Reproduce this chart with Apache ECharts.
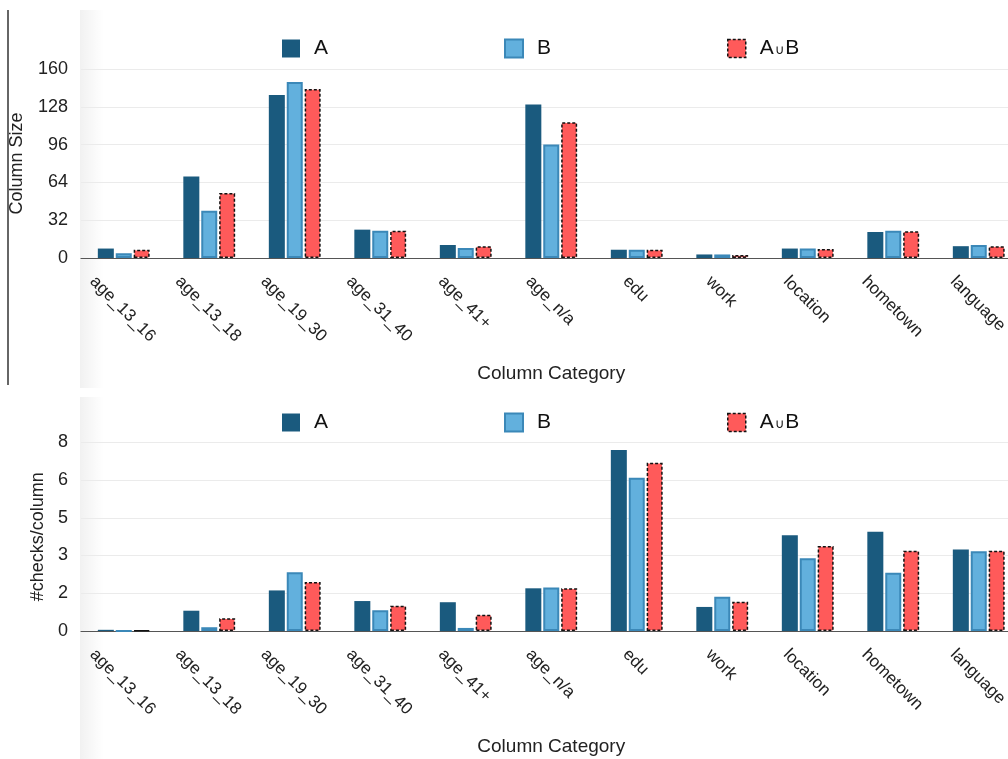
<!DOCTYPE html>
<html>
<head>
<meta charset="utf-8">
<script src="https://cdn.jsdelivr.net/npm/echarts@6/dist/echarts.min.js"></script>
<style>
  html, body { margin: 0; padding: 0; background: #fff; }
  #chart { width: 1008px; height: 759px; }
</style>
</head>
<body>
<div id="chart"></div>
<script>
const categories = ['age_13_16', 'age_13_18', 'age_19_30', 'age_31_40', 'age_41+', 'age_n/a', 'edu', 'work', 'location', 'hometown', 'language']
const seriesNames = ['A', 'B', 'A∪B']

// top panel: column size
const sizeA = [8, 69, 138, 24, 11, 130, 7, 3, 8, 22, 10]
const sizeB = [4, 40, 149, 23, 8.5, 96, 7, 3, 8, 23, 11]
const sizeAuB = [7, 55, 143, 23, 10, 115, 7, 2.5, 7.6, 22.6, 10]
const sizeTicks = [0, 32, 64, 96, 128, 160]

// bottom panel: checks per column
const checksA = [0.05, 0.86, 1.72, 1.27, 1.22, 1.81, 7.67, 1.02, 4.06, 4.21, 3.45]
const checksB = [0, 0.16, 2.49, 0.88, 0.13, 1.84, 6.5, 1.45, 3.08, 2.47, 3.38]
const checksAuB = [0.03, 0.54, 2.08, 1.07, 0.69, 1.81, 7.13, 1.24, 3.6, 3.4, 3.4]
const checksTicks = [0, 1.6, 3.2, 4.8, 6.4, 8]

const FONT = '"Liberation Sans", Arial, sans-serif'
const labelSize = 17
const labelH = 17

// measure label width so each rotated label's box is centred under its tick
let ctx = document.createElement('canvas').getContext('2d')
ctx.font = labelSize + 'px ' + FONT
function catData() {
  return categories.map(function (c) {
    let w = ctx.measureText(c).width
    return {
      value: c,
      textStyle: {
        align: 'center',
        verticalAlign: 'top',
        padding: [w / 4, 0, 0, w / 2 + labelH - 3],
      },
    }
  })
}

const styles = [
  { color: '#1a5a7e' },
  { color: '#62b0dd', borderColor: '#3b88b8', borderWidth: 2 },
  { color: '#ff5a5a', borderColor: '#111', borderWidth: 1.5, borderType: [3, 2] },
]

function makeSeries(idx, lists) {
  return lists.map(function (d, i) {
    return {
      name: seriesNames[i],
      type: 'bar',
      xAxisIndex: idx,
      yAxisIndex: idx,
      data: d,
      barWidth: 16,
      barGap: '12%',
      itemStyle: styles[i],
      emphasis: { disabled: true },
    }
  })
}

function xAxisOpt(idx) {
  return {
    type: 'category',
    gridIndex: idx,
    data: catData(),
    name: 'Column Category',
    nameLocation: 'middle',
    nameGap: 106,
    nameMoveOverlap: false,
    nameTextStyle: { color: '#222', fontSize: 19, fontFamily: FONT },
    axisLine: { show: true, lineStyle: { color: '#555', width: 1.2 } },
    axisTick: { show: false },
    axisLabel: {
      interval: 0,
      rotate: -45,
      margin: 10,
      color: '#222',
      fontSize: labelSize,
      fontFamily: FONT,
      hideOverlap: false,
    },
  }
}

function yAxisOpt(idx, name, ticks, gap) {
  return {
    type: 'value',
    gridIndex: idx,
    min: ticks[0],
    max: ticks[ticks.length - 1],
    interval: ticks[1] - ticks[0],
    name: name,
    nameLocation: 'middle',
    nameGap: gap,
    nameMoveOverlap: false,
    nameTextStyle: { color: '#222', fontSize: 18, fontFamily: FONT },
    axisLine: { show: false },
    axisTick: { show: false },
    axisLabel: {
      margin: 13,
      color: '#222',
      fontSize: 18,
      fontFamily: FONT,
      formatter: function (v) {
        return Math.round(v)
      },
    },
    splitLine: { lineStyle: { color: '#ebebeb', width: 1.2 } },
  }
}

function legendOpt(top) {
  return {
    top: top,
    left: 277,
    icon: 'rect',
    itemWidth: 18,
    itemHeight: 18,
    itemGap: 176,
    data: seriesNames.map(function (n, i) {
      return { name: n, itemStyle: styles[i] }
    }),
    selectedMode: false,
    formatter: function (name) {
      if (name === 'A∪B') return '{b|A}{s|∪}{b|B}'
      return '{b|' + name + '}'
    },
    textStyle: {
      padding: [0, 0, 0, 9],
      rich: {
        b: { fontSize: 21, color: '#111', fontFamily: FONT },
        s: { fontSize: 13, color: '#111', fontFamily: '"DejaVu Sans", sans-serif', padding: [4, 1, 0, 1] },
      },
    },
  }
}

function shade(y, h) {
  return {
    type: 'rect',
    silent: true,
    z: -10,
    shape: { x: 80, y: y, width: 24, height: h },
    style: {
      fill: new echarts.graphic.LinearGradient(0, 0, 1, 0, [
        { offset: 0, color: 'rgba(0,0,0,0.055)' },
        { offset: 1, color: 'rgba(0,0,0,0)' },
      ]),
    },
  }
}

let myChart = echarts.init(document.getElementById('chart'), null, { renderer: 'canvas' })
let option = {
  animation: false,
  backgroundColor: '#fff',
  textStyle: { fontFamily: FONT },
  grid: [
    { left: 81, top: 69, width: 940.5, height: 189, outerBoundsMode: 'none' },
    { left: 81, top: 442.3, width: 940.5, height: 188.7, outerBoundsMode: 'none' },
  ],
  legend: [legendOpt(33), legendOpt(407)],
  xAxis: [xAxisOpt(0), xAxisOpt(1)],
  yAxis: [
    yAxisOpt(0, 'Column Size', sizeTicks, 55),
    yAxisOpt(1, '#checks/column', checksTicks, 34),
  ],
  series: makeSeries(0, [sizeA, sizeB, sizeAuB]).concat(makeSeries(1, [checksA, checksB, checksAuB])),
  graphic: [
    shade(10, 378),
    shade(397, 362),
    {
      type: 'line',
      silent: true,
      shape: { x1: 8, y1: 10, x2: 8, y2: 385 },
      style: { stroke: '#333', lineWidth: 1.5 },
    },
  ],
}
myChart.setOption(option)
</script>
</body>
</html>
